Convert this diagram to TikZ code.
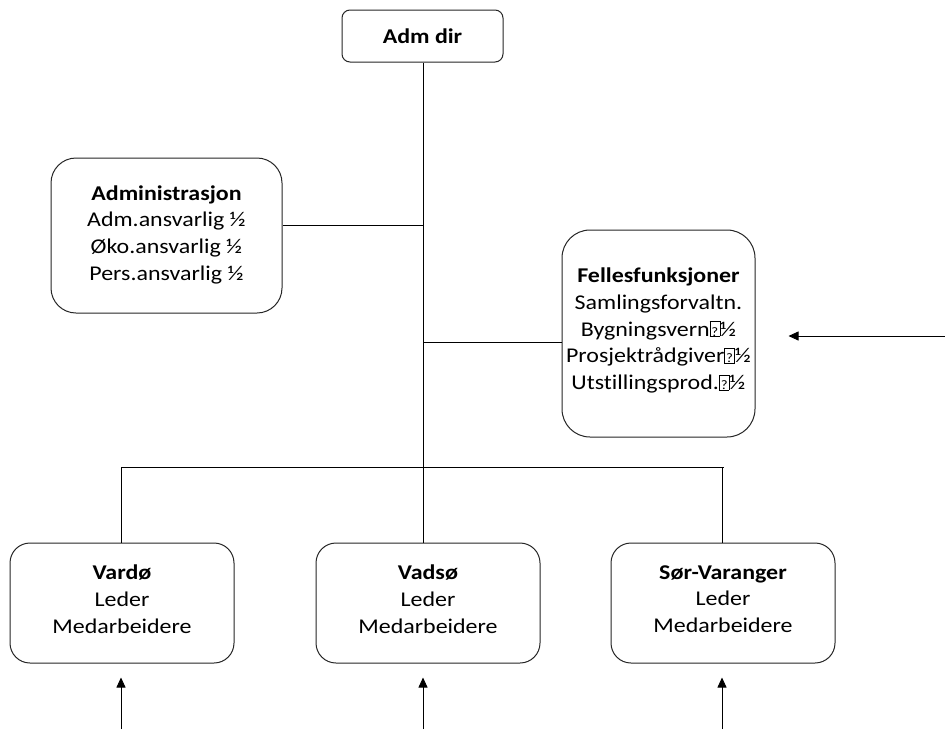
\documentclass[tikz,border=0pt]{standalone}
\usepackage{fontspec}
\setmainfont{Carlito}[Ligatures={NoCommon},FakeStretch=1.14]
\usetikzlibrary{arrows.meta,calc}
\newcommand{\missglyph}{{\setlength\fboxsep{0pt}\setlength\fboxrule{0.6pt}\framebox[0.5em][c]{\rule{0pt}{0.68em}\fontsize{13}{13}\selectfont ?}}}
\tikzset{
  box/.style={draw=black!85, line width=1pt, fill=white, inner sep=0pt},
  txt/.style={align=center, inner sep=0pt, font=\fontsize{21}{26.7}\selectfont},
  conn/.style={line width=0.8pt, draw=black},
  arr/.style={line width=0.8pt, draw=black, -{Triangle[length=10pt,width=9pt]}},
}
\begin{document}
\begin{tikzpicture}[x=1pt,y=-1pt]
\useasboundingbox (0,0) rectangle (945,729);
% boxes
\node[box, rounded corners=8pt, minimum width=161pt, minimum height=52pt] (admdir) at (422.5,36) {};
\node[txt] (admdirtext) at (admdir.center) {\textbf{Adm dir}};
\node[box, rounded corners=25pt, minimum width=231pt, minimum height=155pt] (admin) at (166.5,235.5) {};
\node[txt] (admintext) at ([yshift=1pt]admin.center)
  {\textbf{Administrasjon}\\Adm.ansvarlig ½\\Øko.ansvarlig ½\\Pers.ansvarlig ½};
\node[box, rounded corners=28pt, minimum width=193pt, minimum height=207pt] (felles) at (658.5,333.5) {};
\node[txt] (fellestext) at ([yshift=3pt]felles.center)
  {\textbf{Fellesfunksjoner}\\Samlingsforvaltn.\\Bygningsvern\missglyph½\\Prosjektrådgiver\missglyph½\\Utstillingsprod.\missglyph½};
\node[box, rounded corners=20pt, minimum width=224pt, minimum height=120pt] (vardo) at (122,603) {};
\node[txt] (vardotext) at ([yshift=4pt]vardo.center) {\textbf{Vardø}\\Leder\\Medarbeidere};
\node[box, rounded corners=20pt, minimum width=224pt, minimum height=120pt] (vadso) at (428,603) {};
\node[txt] (vadsotext) at ([yshift=4pt]vadso.center) {\textbf{Vadsø}\\Leder\\Medarbeidere};
\node[box, rounded corners=20pt, minimum width=224pt, minimum height=120pt] (sor) at (723,603) {};
\node[txt] (sortext) at ([yshift=4pt]sor.center) {\textbf{Sør-Varanger}\\Leder\\Medarbeidere};
% coordinates
\coordinate (bus) at (423,467);
\coordinate (bl) at (121,467);
\coordinate (br) at (724,467);
\coordinate (bs) at (722,467);
\coordinate (ja) at (423,225);
\coordinate (jf) at (423,342);
\coordinate (fr) at (945,336);
\coordinate (av) at (121,729);
\coordinate (ad) at (423,729);
\coordinate (as) at (722,729);
% connectors
\draw[conn] (admdir.south -| bus) -- (bus);
\draw[conn] (ja) -- (ja -| admin.east);
\draw[conn] (jf) -- (jf -| felles.west);
\draw[conn] (bl) -- (br);
\draw[conn] (bl) -- (bl |- vardo.north);
\draw[conn] (bus) -- (bus |- vadso.north);
\draw[conn] (bs) -- (bs |- sor.north);
\draw[arr, shorten >=33pt] (fr) -- (fr -| felles.east);
\draw[arr, shorten >=14pt] (av) -- (av |- vardo.south);
\draw[arr, shorten >=14pt] (ad) -- (ad |- vadso.south);
\draw[arr, shorten >=14pt] (as) -- (as |- sor.south);
\end{tikzpicture}
\end{document}
